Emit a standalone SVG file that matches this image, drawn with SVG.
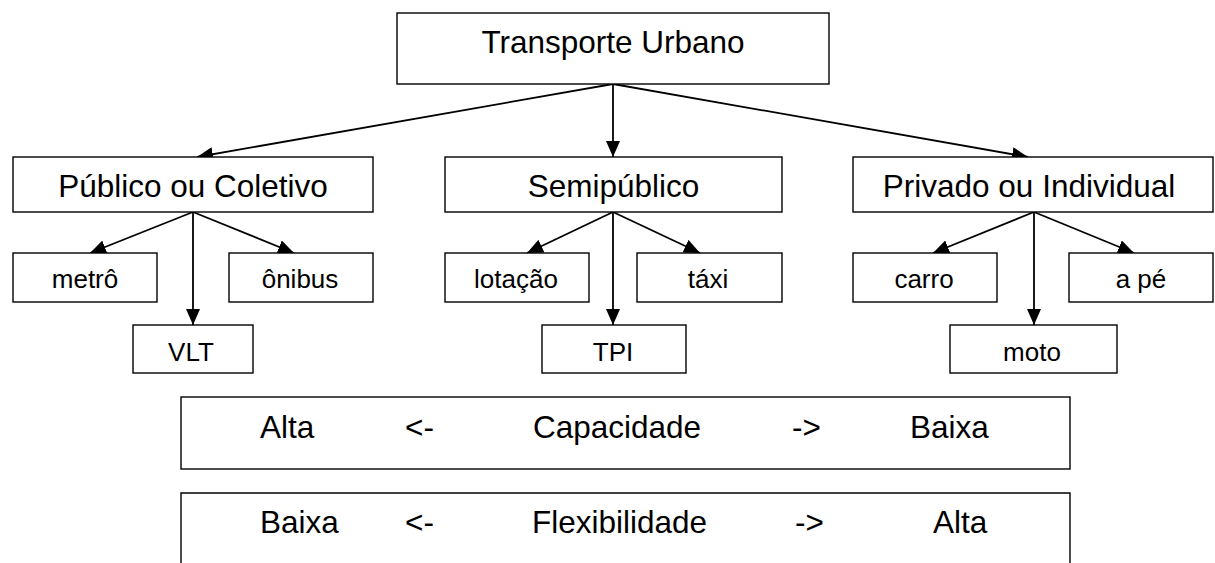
<svg xmlns="http://www.w3.org/2000/svg" width="1215" height="563" viewBox="0 0 1215 563">
<style>
.box{fill:#fff;stroke:#000;stroke-width:1.4}
.big{font-family:"Liberation Sans",Arial,sans-serif;font-size:31.5px;fill:#000;text-anchor:middle}
.sm{font-family:"Liberation Sans",Arial,sans-serif;font-size:26px;fill:#000;text-anchor:middle}
.lbl{font-family:"Liberation Sans",Arial,sans-serif;font-size:31.5px;fill:#000}
.con{stroke:#000;stroke-width:1.8;fill:none;marker-end:url(#ah)}
</style>
<defs>
<marker id="ah" markerUnits="userSpaceOnUse" markerWidth="17" markerHeight="14" refX="16" refY="7" orient="auto">
<path d="M0,0 L16,7 L0,14 Z" fill="#000"/>
</marker>
</defs>
<rect width="1215" height="563" fill="#fff"/>
<g id="connectors">
<line class="con" x1="613" y1="84" x2="197" y2="157"/>
<line class="con" x1="613" y1="84" x2="613" y2="157"/>
<line class="con" x1="613" y1="84" x2="1028" y2="157"/>
<line class="con" x1="193" y1="212" x2="90" y2="253"/>
<line class="con" x1="193" y1="212" x2="193" y2="325"/>
<line class="con" x1="193" y1="212" x2="294" y2="253"/>
<line class="con" x1="613" y1="212" x2="527" y2="253"/>
<line class="con" x1="613" y1="212" x2="613" y2="325"/>
<line class="con" x1="613" y1="212" x2="700" y2="253"/>
<line class="con" x1="1034" y1="212" x2="933" y2="253"/>
<line class="con" x1="1034" y1="212" x2="1034" y2="325"/>
<line class="con" x1="1034" y1="212" x2="1134" y2="253"/>
</g>
<g id="n-transporte"><rect class="box" x="397" y="13" width="432" height="71"/><text class="big" x="613" y="53">Transporte Urbano</text></g>
<g id="n-publico"><rect class="box" x="13" y="157" width="360" height="55"/><text class="big" x="193" y="197">Público ou Coletivo</text></g>
<g id="n-semipublico"><rect class="box" x="445" y="157" width="337" height="55"/><text class="big" x="613.5" y="197">Semipúblico</text></g>
<g id="n-privado"><rect class="box" x="853" y="157" width="360" height="55"/><text class="big" x="1029" y="197">Privado ou Individual</text></g>
<g id="n-metro"><rect class="box" x="13" y="253" width="144" height="49"/><text class="sm" x="85" y="288">metrô</text></g>
<g id="n-vlt"><rect class="box" x="133" y="325" width="120" height="48"/><text class="sm" x="191" y="361">VLT</text></g>
<g id="n-onibus"><rect class="box" x="229" y="253" width="144" height="49"/><text class="sm" x="300" y="288">ônibus</text></g>
<g id="n-lotacao"><rect class="box" x="445" y="253" width="144" height="49"/><text class="sm" x="516" y="288">lotação</text></g>
<g id="n-tpi"><rect class="box" x="542" y="325" width="144" height="48"/><text class="sm" x="613" y="361">TPI</text></g>
<g id="n-taxi"><rect class="box" x="637" y="253" width="145" height="49"/><text class="sm" x="708" y="288">táxi</text></g>
<g id="n-carro"><rect class="box" x="853" y="253" width="144" height="49"/><text class="sm" x="924" y="288">carro</text></g>
<g id="n-moto"><rect class="box" x="950" y="325" width="167" height="48"/><text class="sm" x="1032" y="361">moto</text></g>
<g id="n-ape"><rect class="box" x="1069" y="253" width="144" height="49"/><text class="sm" x="1141" y="288">a pé</text></g>
<g id="n-capacidade"><rect class="box" x="181" y="397" width="889" height="72"/>
<text class="lbl" x="260" y="438">Alta</text><text class="lbl" x="405" y="438">&lt;-</text><text class="lbl" x="533" y="438">Capacidade</text><text class="lbl" x="792" y="438">-&gt;</text><text class="lbl" x="910" y="438">Baixa</text></g>
<g id="n-flexibilidade"><path class="box" d="M181,565 V493 H1070 V565"/>
<text class="lbl" x="260" y="533">Baixa</text><text class="lbl" x="405" y="533">&lt;-</text><text class="lbl" x="532" y="533">Flexibilidade</text><text class="lbl" x="795" y="533">-&gt;</text><text class="lbl" x="933" y="533">Alta</text></g>
</svg>
